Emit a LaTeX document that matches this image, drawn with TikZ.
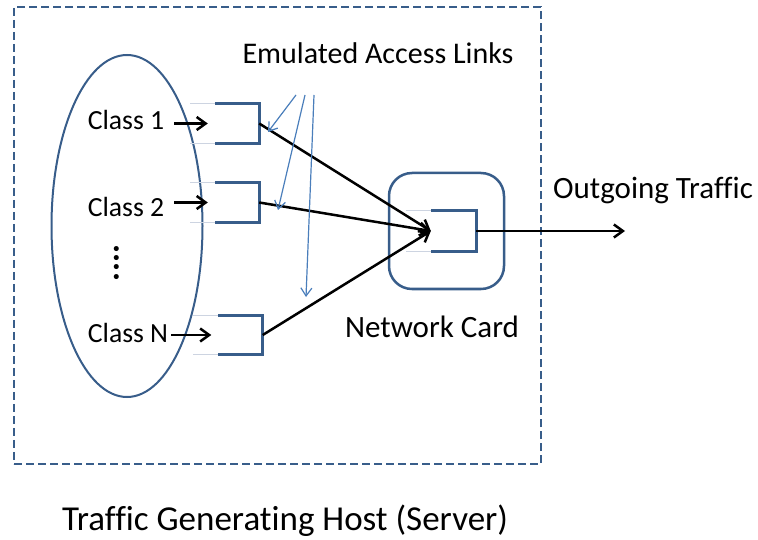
\documentclass[tikz,border=0pt]{standalone}
\usepackage{fontspec}
\setmainfont{Carlito}[Ligatures=NoCommon]
\usepackage{tikz}
\usetikzlibrary{shapes,arrows.meta,positioning}
\definecolor{boxblue}{RGB}{56,93,138}
\definecolor{linkblue}{RGB}{74,126,187}
\definecolor{feedgray}{RGB}{205,212,225}
\tikzstyle{queue} = [rectangle, minimum width=44pt, minimum height=39pt, inner sep=0]
\tikzstyle{txt} = [font=\fontsize{30}{36}\selectfont, inner sep=0]
\tikzstyle{classtxt} = [font=\fontsize{27.7}{33}\selectfont, inner sep=0]
\tikzstyle{flow} = [draw, line width=2.5pt, -{Straight Barb[length=9pt,width=13pt]}]
\tikzstyle{accesslink} = [draw=linkblue, line width=1.2pt, -{Straight Barb[length=8pt,width=11pt]}]
\newcommand*{\qbracket}[1]{%
  \draw[feedgray, line width=1pt] (#1.north west) -- ++(-25,0) (#1.south west) -- ++(-25,0);
  \draw[boxblue, line width=3pt] (#1.north west) -- (#1.north east) -- (#1.south east) -- (#1.south west);}

\begin{document}
\begin{tikzpicture}[x=1pt, y=-1pt]
	  \useasboundingbox (0,0) rectangle (758,540);
	  % host and its classes
	  \node [draw=boxblue, line width=2.5pt, dash pattern=on 8pt off 4pt, minimum width=527pt, minimum height=457pt] (host) at (277.5,235.5) {};
	  \node [ellipse, draw=boxblue, line width=2pt, minimum width=151pt, minimum height=342pt] (classes) at (127,226) {};
	  \node [classtxt] (c1) at (126,120) {Class 1};
	  \node [classtxt] (c2) at (126,207) {Class 2};
	  \node [classtxt, font=\fontsize{34}{40}\selectfont\bfseries, rotate=-90] (dots) at (117,263) {....};
	  \node [classtxt] (cn) at (128,333) {Class N};
	
	  \node [queue] (q1) at (237,123.5) {};
	  \node [queue] (q2) at (237,202.5) {};
	  \node [queue] (qn) at (240.5,335) {};
	
	  % network card
	  \node [draw=boxblue, line width=2.5pt, rounded corners=23pt, minimum width=115pt, minimum height=116pt] (card) at (446.5,231) {};
	  \node [queue, minimum width=45pt, minimum height=40pt] (cq) at (453.5,231) {};
	  \node [txt, font=\fontsize{31}{37}\selectfont] (cardname) at (432,327) {Network Card};
	  \coordinate (out) at (625,231);
	  \node [txt, font=\fontsize{31}{37}\selectfont] (outname) at (653,191) {Outgoing Traffic};
	
	  \node [txt] (links) at (378,53) {Emulated Access Links};
	  \node [txt, font=\fontsize{35}{42}\selectfont] (hostname) at (285,521) {Traffic Generating Host (Server)};
	
	  \qbracket{q1}
	  \qbracket{q2}
	  \qbracket{qn}
	  \qbracket{cq}
	
	  \draw [flow, shorten <=10pt, shorten >=7pt] (c1.east |- q1) -- (q1);
	  \draw [flow, shorten <=10pt, shorten >=7pt] (c2.east |- q2) -- (q2);
	  \draw [flow, shorten <=3pt, shorten >=7pt] (cn.east |- qn) -- (qn);
	  \draw [flow] (q1.east) -- (cq.west);
	  \draw [flow] (q2.east) -- (cq.west);
	  \draw [flow] (qn.east) -- (cq.west);
	  \draw [flow] (cq.east) -- (out);
	
	  % emulated links
	  \coordinate (l1) at (296,95);
	  \coordinate (l2) at (305,95);
	  \coordinate (l3) at (314,95);
	  \coordinate (e1) at (268,132);
	  \coordinate (e2) at (278,210);
	  \coordinate (e3) at (306,297);
	  \draw [accesslink] (l1) -- (e1);
	  \draw [accesslink] (l2) -- (e2);
	  \draw [accesslink] (l3) -- (e3);
	\end{tikzpicture}
\end{document}
